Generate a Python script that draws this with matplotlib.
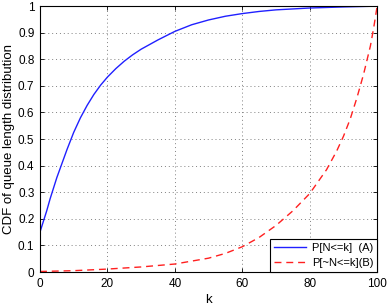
import matplotlib
matplotlib.use("Agg")
import matplotlib.pyplot as plt
from matplotlib.ticker import FuncFormatter

# values
k_a = [0, 1, 2, 3, 4, 5, 6, 7, 8, 10, 12, 14, 16, 18, 20, 22.5, 25, 27.5, 30, 35, 40,
       45, 50, 55, 60, 65, 70, 80, 90, 100]
p_a = [0.15, 0.19, 0.23, 0.275, 0.315, 0.355, 0.39, 0.425, 0.46, 0.525, 0.58, 0.627,
       0.668, 0.703, 0.733, 0.765, 0.793, 0.817, 0.838, 0.873, 0.905, 0.93, 0.948,
       0.962, 0.972, 0.98, 0.986, 0.993, 0.997, 1.0]

k_b = [0, 10, 20, 30, 40, 50, 55, 60, 65, 70, 75, 80, 85, 88, 90, 92, 94, 96, 98, 99, 100]
p_b = [0.002, 0.005, 0.011, 0.019, 0.03, 0.052, 0.07, 0.095, 0.13, 0.175, 0.23, 0.295,
       0.385, 0.455, 0.51, 0.575, 0.655, 0.745, 0.85, 0.92, 1.0]

x_ticks = [0, 20, 40, 60, 80, 100]
y_ticks = [0, 0.1, 0.2, 0.3, 0.4, 0.5, 0.6, 0.7, 0.8, 0.9, 1.0]

plt.rcParams['font.family'] = ['Liberation Sans', 'DejaVu Sans']
plt.rcParams['font.size'] = 8.5

fig = plt.figure(figsize=(3.88, 3.07), dpi=100)
ax = fig.add_axes([0.103, 0.114, 0.869, 0.866])

ax.plot(k_a, p_a, color='#2020ff', linewidth=1.0, label='P[N<=k]  (A)')
ax.plot(k_b, p_b, color='#ff2020', linewidth=1.0, linestyle=(0, (5, 3.5)), label='P[~N<=k](B)')

ax.set_xlim(0, 100)
ax.set_ylim(0, 1)
ax.set_xticks(x_ticks)
ax.set_yticks(y_ticks)
ax.yaxis.set_major_formatter(FuncFormatter(lambda v, p: f'{v:g}'))
ax.tick_params(direction='in', length=3, width=0.6, top=True, right=True, pad=4)
ax.grid(True, linestyle=(0, (1, 3)), color='#808080', linewidth=0.7)
for s in ax.spines.values():
    s.set_linewidth(0.8)

ax.set_xlabel('k', fontsize=9.5, labelpad=3)
ax.set_ylabel('CDF of queue length distribution', fontsize=9.5, labelpad=2)

leg = ax.legend(loc='lower right', borderaxespad=0, fancybox=False, framealpha=1,
                edgecolor='black', handlelength=2.9, handletextpad=0.5,
                borderpad=0.35, fontsize=8)
leg.get_frame().set_linewidth(0.8)

fig.savefig('out.png', dpi=100)
